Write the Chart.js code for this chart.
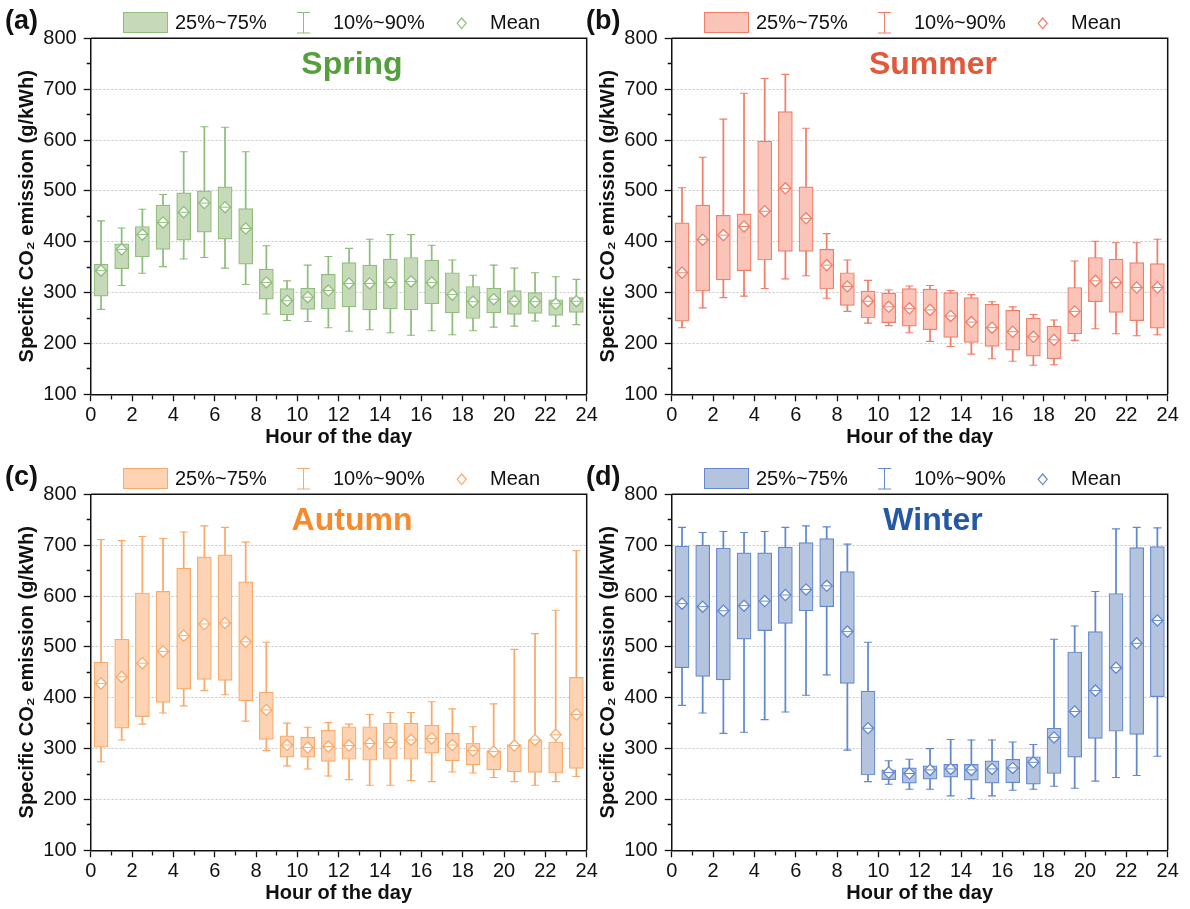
<!DOCTYPE html>
<html>
<head>
<meta charset="utf-8">
<title>Specific CO2 emission by hour and season</title>
<script src="https://cdn.jsdelivr.net/npm/chart.js@4.4.1/dist/chart.umd.min.js"></script>
<style>
  html, body { margin: 0; padding: 0; background: #fff; overflow: hidden; }
  body { width: 1190px; height: 909px; position: relative; }
  canvas { position: absolute; }
</style>
</head>
<body>
<canvas id="springChart" width="600" height="452" style="left:0px;top:0px"></canvas>
<canvas id="summerChart" width="600" height="452" style="left:581px;top:0px"></canvas>
<canvas id="autumnChart" width="600" height="452" style="left:0px;top:456px"></canvas>
<canvas id="winterChart" width="600" height="452" style="left:581px;top:456px"></canvas>
<script>
// box centres (hour of the day) and axis tick labels
const HOURS = [0.5, 1.5, 2.5, 3.5, 4.5, 5.5, 6.5, 7.5, 8.5, 9.5, 10.5, 11.5,
               12.5, 13.5, 14.5, 15.5, 16.5, 17.5, 18.5, 19.5, 20.5, 21.5, 22.5, 23.5];
const X_TICK_LABELS = [0, 2, 4, 6, 8, 10, 12, 14, 16, 18, 20, 22, 24];
const Y_TICK_LABELS = [100, 200, 300, 400, 500, 600, 700, 800];

// Spring (g/kWh): 10%, 25%, mean, 75%, 90%
const SPRING_P10  = [267, 314, 338, 351, 366, 369, 348, 316, 258, 245, 243, 231, 224, 227, 221, 216, 225, 217, 225, 232, 234, 244, 234, 237];
const SPRING_Q25  = [293, 347, 370, 385, 403, 419, 405, 356, 287, 256, 267, 268, 272, 266, 268, 266, 278, 260, 249, 260, 257, 259, 255, 261];
const SPRING_MEAN = [343, 385, 414, 438, 458, 476, 468, 426, 320, 284, 291, 304, 318, 318, 320, 322, 320, 296, 282, 287, 283, 282, 278, 283];
const SPRING_Q75  = [356, 396, 430, 472, 496, 500, 508, 465, 346, 308, 309, 336, 359, 354, 366, 369, 364, 339, 312, 309, 304, 300, 286, 290];
const SPRING_P90  = [441, 427, 464, 493, 577, 626, 625, 577, 392, 323, 354, 371, 387, 405, 414, 414, 393, 364, 334, 354, 348, 339, 331, 326];

// Summer
const SUMMER_P10  = [231, 270, 290, 293, 308, 327, 333, 289, 263, 240, 235, 221, 204, 194, 179, 170, 165, 157, 158, 206, 229, 219, 215, 217];
const SUMMER_Q25  = [244, 303, 325, 343, 364, 381, 381, 307, 275, 250, 241, 234, 227, 212, 202, 194, 187, 175, 170, 219, 282, 261, 245, 230];
const SUMMER_MEAN = [339, 404, 413, 430, 460, 505, 446, 354, 312, 283, 272, 269, 266, 254, 242, 231, 223, 213, 207, 263, 323, 320, 310, 310];
const SUMMER_Q75  = [437, 472, 452, 455, 598, 656, 508, 385, 339, 303, 299, 308, 307, 300, 290, 277, 265, 250, 234, 310, 369, 366, 359, 357];
const SUMMER_P90  = [506, 566, 641, 692, 721, 729, 623, 416, 364, 324, 305, 313, 314, 304, 296, 282, 272, 257, 246, 362, 401, 398, 398, 405];

// Autumn
const AUTUMN_P10  = [274, 317, 348, 370, 384, 414, 406, 354, 296, 266, 260, 246, 239, 228, 228, 237, 235, 254, 252, 243, 235, 228, 235, 245];
const AUTUMN_Q25  = [303, 340, 363, 391, 417, 436, 434, 394, 318, 283, 283, 275, 279, 277, 279, 279, 291, 276, 268, 258, 254, 253, 252, 261];
const AUTUMN_MEAN = [428, 441, 468, 491, 522, 545, 547, 510, 376, 307, 302, 304, 306, 310, 312, 317, 320, 307, 296, 294, 306, 317, 327, 367];
const AUTUMN_Q75  = [470, 515, 606, 609, 655, 677, 681, 628, 411, 325, 322, 336, 343, 343, 350, 350, 346, 330, 311, 296, 308, 317, 313, 440];
const AUTUMN_P90  = [711, 709, 717, 713, 726, 738, 735, 706, 509, 350, 342, 351, 348, 367, 371, 371, 392, 378, 343, 388, 495, 526, 572, 689];

// Winter
const WINTER_P10  = [385, 370, 330, 332, 357, 372, 405, 445, 297, 235, 230, 220, 220, 207, 202, 207, 218, 220, 226, 222, 236, 243, 247, 285];
const WINTER_Q25  = [459, 442, 435, 515, 532, 546, 571, 579, 428, 248, 239, 232, 240, 244, 238, 232, 233, 230, 251, 283, 320, 334, 328, 402];
const WINTER_MEAN = [585, 579, 571, 581, 590, 602, 613, 620, 530, 340, 253, 251, 258, 260, 258, 260, 262, 273, 322, 373, 414, 459, 507, 552];
const WINTER_Q75  = [698, 700, 694, 685, 685, 696, 705, 713, 648, 413, 258, 262, 266, 269, 269, 276, 279, 284, 340, 490, 530, 605, 695, 697];
const WINTER_P90  = [735, 725, 727, 725, 727, 735, 738, 736, 702, 509, 276, 279, 300, 318, 317, 317, 313, 308, 515, 541, 609, 732, 735, 734];

Chart.defaults.font.family = "'Liberation Sans', Arial, sans-serif";
Chart.defaults.color = '#111';

const FONT = "'Liberation Sans', Arial, sans-serif";

// frame, panel letter, season name and the legend row above the plot
const panelDecor = {
    id: 'panelDecor',
    afterDraw: (chart, args, opts) => {
        const { ctx, chartArea: { left, top, right, bottom } } = chart;
        ctx.save();
        ctx.strokeStyle = '#111';
        ctx.lineWidth = 1.5;
        ctx.beginPath();
        ctx.moveTo(left, top);
        ctx.lineTo(right, top);
        ctx.lineTo(right, bottom);
        ctx.stroke();

        ctx.fillStyle = '#111';
        ctx.textAlign = 'left';
        ctx.textBaseline = 'alphabetic';
        ctx.font = 'bold 27px ' + FONT;
        ctx.fillText(opts.letter, 5, 29);

        ctx.fillStyle = opts.titleColor;
        ctx.textAlign = 'center';
        ctx.font = 'bold 32px ' + FONT;
        ctx.fillText(opts.title, 352, 74);

        // legend
        ctx.fillStyle = opts.fill;
        ctx.fillRect(123, 12, 45, 21);
        ctx.strokeStyle = opts.line;
        ctx.lineWidth = 1;
        ctx.strokeRect(123.5, 12.5, 44, 20);

        ctx.beginPath();
        ctx.moveTo(303.5, 12.5); ctx.lineTo(303.5, 33);
        ctx.moveTo(297, 12.5); ctx.lineTo(310, 12.5);
        ctx.moveTo(297, 33); ctx.lineTo(310, 33);
        ctx.stroke();

        ctx.lineWidth = 1.2;
        ctx.beginPath();
        ctx.moveTo(461.7, 18); ctx.lineTo(466.2, 23.3);
        ctx.lineTo(461.7, 28.6); ctx.lineTo(457.2, 23.3);
        ctx.closePath();
        ctx.stroke();

        ctx.fillStyle = '#111';
        ctx.textAlign = 'left';
        ctx.textBaseline = 'middle';
        ctx.font = '20px ' + FONT;
        ctx.fillText('25%~75%', 175, 23);
        ctx.fillText('10%~90%', 333, 23);
        ctx.fillText('Mean', 490, 23);
        ctx.restore();
    }
};

const renderSeasonChart = (canvasId, season) => {
    const points = values => HOURS.map((h, i) => ({ x: h, y: values[i] }));
    const ranges = (lo, hi) => HOURS.map((h, i) => ({ x: h, y: [lo[i], hi[i]] }));

    new Chart(document.getElementById(canvasId), {
        type: 'bar',
        data: {
            datasets: [{
                label: '10%~90%',
                data: ranges(season.p10, season.p90),
                backgroundColor: season.line,
                barThickness: 1.1,
                grouped: false,
                order: 5
            }, {
                label: '25%~75%',
                data: ranges(season.q25, season.q75),
                backgroundColor: season.fill,
                borderColor: season.line,
                borderWidth: 1.2,
                borderSkipped: false,
                barThickness: 14,
                grouped: false,
                order: 4
            }, {
                type: 'scatter',
                label: 'caps',
                data: points(season.p10).concat(points(season.p90)),
                pointStyle: 'line',
                radius: 4,
                borderColor: season.line,
                borderWidth: 1.1,
                order: 3
            }, {
                type: 'scatter',
                label: 'Mean',
                data: points(season.mean),
                pointStyle: 'rectRot',
                radius: 5.6,
                backgroundColor: '#fff',
                borderColor: season.line,
                borderWidth: 1.3,
                order: 2
            }, {
                type: 'scatter',
                label: 'mean line',
                data: points(season.mean),
                pointStyle: 'line',
                radius: 5,
                borderColor: season.line,
                borderWidth: 1,
                order: 1
            }]
        },
        options: {
            responsive: false,
            animation: false,
            layout: { padding: { left: 0, top: 38.3, right: 13.3, bottom: 0 } },
            plugins: {
                legend: { display: false },
                tooltip: { enabled: false },
                panelDecor: season.decor
            },
            scales: {
                x: {
                    type: 'linear',
                    min: 0,
                    max: 24,
                    offset: false,
                    grid: {
                        offset: false,
                        drawOnChartArea: false,
                        tickLength: 7,
                        tickColor: '#111',
                        tickWidth: 1.3,
                        tickBorderDash: ctx => (ctx.tick && !X_TICK_LABELS.includes(ctx.tick.value)) ? [4, 50] : []
                    },
                    border: { color: '#111', width: 1.5 },
                    ticks: {
                        stepSize: 1,
                        autoSkip: false,
                        maxRotation: 0,
                        padding: 2,
                        font: { size: 20 },
                        callback: v => X_TICK_LABELS.includes(v) ? v : ''
                    },
                    title: {
                        display: true,
                        text: 'Hour of the day',
                        font: { size: 20, weight: 'bold' },
                        padding: { top: 0, bottom: 3 }
                    },
                    afterFit: scale => {
                        scale.height = 57.7;
                        scale.paddingLeft = 0;
                        scale.paddingRight = 0;
                    }
                },
                y: {
                    min: 100,
                    max: 800,
                    grid: {
                        color: ctx => (ctx.tick && Y_TICK_LABELS.includes(ctx.tick.value) && ctx.tick.value > 100 && ctx.tick.value < 800) ? '#c4c4c4' : 'rgba(0,0,0,0)',
                        lineWidth: 1,
                        tickLength: 7,
                        tickColor: '#111',
                        tickWidth: 1.3,
                        tickBorderDash: ctx => (ctx.tick && !Y_TICK_LABELS.includes(ctx.tick.value)) ? [0, 3, 4, 50] : []
                    },
                    border: { color: '#111', width: 1.5, dash: [2, 2] },
                    ticks: {
                        stepSize: 50,
                        autoSkip: false,
                        padding: 7,
                        font: { size: 20 },
                        callback: v => Y_TICK_LABELS.includes(v) ? v : ''
                    },
                    title: {
                        display: true,
                        text: 'Specific CO\u2082 emission (g/kWh)',
                        font: { size: 20, weight: 'bold' },
                        padding: { top: 15, bottom: 0 }
                    },
                    afterFit: scale => {
                        scale.width = 90.7;
                        scale.paddingTop = 0;
                        scale.paddingBottom = 0;
                    }
                }
            }
        },
        plugins: [panelDecor]
    });
};

renderSeasonChart('springChart', {
    p10: SPRING_P10, q25: SPRING_Q25, mean: SPRING_MEAN, q75: SPRING_Q75, p90: SPRING_P90,
    fill: '#c6dab9', line: '#8fbd7b',
    decor: { letter: '(a)', title: 'Spring', titleColor: '#55a03d', fill: '#c6dab9', line: '#8fbd7b' }
});
renderSeasonChart('summerChart', {
    p10: SUMMER_P10, q25: SUMMER_Q25, mean: SUMMER_MEAN, q75: SUMMER_Q75, p90: SUMMER_P90,
    fill: '#fac4b8', line: '#f07f6a',
    decor: { letter: '(b)', title: 'Summer', titleColor: '#e2583a', fill: '#fac4b8', line: '#f07f6a' }
});
renderSeasonChart('autumnChart', {
    p10: AUTUMN_P10, q25: AUTUMN_Q25, mean: AUTUMN_MEAN, q75: AUTUMN_Q75, p90: AUTUMN_P90,
    fill: '#fdd3b4', line: '#f9aa6a',
    decor: { letter: '(c)', title: 'Autumn', titleColor: '#f68a2c', fill: '#fdd3b4', line: '#f9aa6a' }
});
renderSeasonChart('winterChart', {
    p10: WINTER_P10, q25: WINTER_Q25, mean: WINTER_MEAN, q75: WINTER_Q75, p90: WINTER_P90,
    fill: '#b4c3de', line: '#6289cf',
    decor: { letter: '(d)', title: 'Winter', titleColor: '#2458a6', fill: '#b4c3de', line: '#6289cf' }
});
</script>
</body>
</html>
